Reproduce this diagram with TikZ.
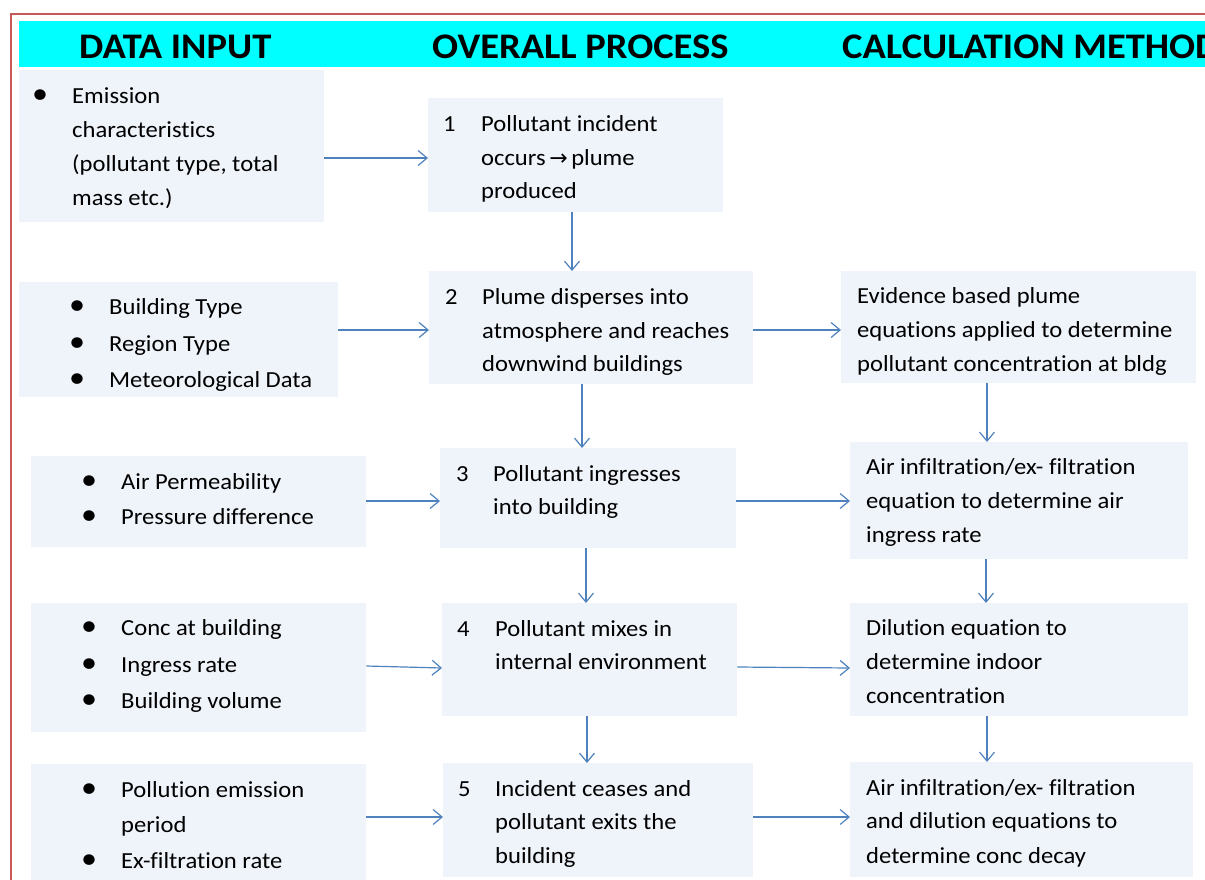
\documentclass[tikz,border=0pt]{standalone}
\usepackage{fontspec}
\setmainfont{Carlito}[FakeStretch=1.07, Ligatures={NoCommon}]
\newfontfamily\symfont{DejaVu Sans}
\usetikzlibrary{arrows.meta}
\definecolor{boxfill}{RGB}{239,243,250}
\definecolor{arrowc}{RGB}{79,129,189}
\definecolor{framec}{RGB}{200,88,88}
\definecolor{headc}{RGB}{0,255,255}
\newcommand\tline[3]{\node[txt] at (#1,#2) {#3};}
\newcommand\bline[3]{\node[bul] at (#1,#2) {\textbullet};}
\begin{document}
\begin{tikzpicture}[x=1pt,y=-1pt,
  box/.style={fill=boxfill, draw=none, inner sep=0, anchor=north west},
  arr/.style={draw=arrowc, line width=1.2pt, -{Straight Barb[length=9pt,width=15pt,line width=1.2pt]}},
  txt/.style={anchor=base west, inner sep=0, font=\fontsize{23}{27}\selectfont},
  bul/.style={anchor=base, inner sep=0, font=\fontsize{30}{30}\selectfont},
  head/.style={anchor=base west, inner sep=0, font=\fontsize{36}{40}\selectfont\bfseries}
]
\useasboundingbox (0,0) rectangle (1205,879);
\clip (0,0) rectangle (1205,879);
% frame and header band
\draw[framec, line width=1.8pt] (11,14) rectangle (1230,900);
\fill[headc] (19,21) rectangle (1230,67);
\node[head] (h1) at (79,58) {DATA INPUT};
\node[head] (h2) at (432,58) {OVERALL PROCESS};
\node[head] (h3) at (842,58) {CALCULATION METHOD};

% boxes
\node[box, minimum width=305pt, minimum height=152pt] (D1) at (19,70) {};
\node[box, minimum width=319pt, minimum height=115pt] (D2) at (19,282) {};
\node[box, minimum width=335pt, minimum height=91pt]  (D3) at (31,456) {};
\node[box, minimum width=335pt, minimum height=129pt] (D4) at (31,603) {};
\node[box, minimum width=335pt, minimum height=125pt] (D5) at (31,764) {};
\node[box, minimum width=295pt, minimum height=114pt] (P1) at (428,98) {};
\node[box, minimum width=324pt, minimum height=113pt] (P2) at (429,271) {};
\node[box, minimum width=296pt, minimum height=100pt] (P3) at (440,448) {};
\node[box, minimum width=295pt, minimum height=113pt] (P4) at (442,603) {};
\node[box, minimum width=310pt, minimum height=114pt] (P5) at (443,763) {};
\node[box, minimum width=355pt, minimum height=112pt] (C2) at (841,271) {};
\node[box, minimum width=338pt, minimum height=117pt] (C3) at (850,442) {};
\node[box, minimum width=338pt, minimum height=113pt] (C4) at (850,603) {};
\node[box, minimum width=343pt, minimum height=115pt] (C5) at (850,762) {};

% data input texts
\bline{40}{103}{}
\tline{72}{103}{Emission}
\tline{72}{137}{characteristics}
\tline{72}{171}{(pollutant type, total}
\tline{72}{205}{mass etc.)}
\begin{scope}
\clip (19,282) rectangle (338,390);
\bline{77}{314}{}\tline{109}{314}{Building Type}
\bline{77}{351}{}\tline{109}{351}{Region Type}
\bline{77}{387}{}\tline{109}{387}{Meteorological Data}
\end{scope}
\bline{89}{489}{}\tline{121}{489}{Air Permeability}
\bline{89}{524}{}\tline{121}{524}{Pressure difference}
\bline{89}{635}{}\tline{121}{635}{Conc at building}
\bline{89}{672}{}\tline{121}{672}{Ingress rate}
\bline{89}{708}{}\tline{121}{708}{Building volume}
\bline{89}{797}{}\tline{121}{797}{Pollution emission}
\tline{121}{832}{period}
\bline{89}{868}{}\tline{121}{868}{Ex-filtration rate}

% process texts
\tline{443}{131}{1}
\tline{481}{131}{Pollutant incident}
\tline{481}{165}{occurs {\symfont\fontsize{22}{24}\selectfont\kern-2pt→\kern-2pt} plume}
\tline{481}{198}{produced}
\tline{445}{304}{2}
\tline{482}{304}{Plume disperses into}
\tline{482}{338}{atmosphere and reaches}
\tline{482}{371}{downwind buildings}
\tline{456}{481}{3}
\tline{493}{481}{Pollutant ingresses}
\tline{493}{514}{into building}
\tline{457}{636}{4}
\tline{495}{636}{Pollutant mixes in}
\tline{495}{669}{internal environment}
\tline{458}{796}{5}
\tline{495}{796}{Incident ceases and}
\tline{495}{829}{pollutant exits the}
\tline{495}{863}{building}

% calculation texts
\tline{857}{303}{Evidence based plume}
\tline{857}{337}{equations applied to determine}
\tline{857}{371}{pollutant concentration at bldg}
\tline{866}{474}{Air infiltration/ex- filtration}
\tline{866}{508}{equation to determine air}
\tline{866}{542}{ingress rate}
\tline{866}{635}{Dilution equation to}
\tline{866}{669}{determine indoor}
\tline{866}{703}{concentration}
\tline{866}{795}{Air infiltration/ex- filtration}
\tline{866}{828}{and dilution equations to}
\tline{866}{863}{determine conc decay}

% horizontal connectors
\draw[arr] (D1.east |- 0,158) -- (P1.west |- 0,158);
\draw[arr] (D2.east |- 0,330) -- (P2.west |- 0,330);
\draw[arr] (P2.east |- 0,330) -- (C2.west |- 0,330);
\draw[arr] (D3.east |- 0,501) -- (P3.west |- 0,501);
\draw[arr] (P3.east |- 0,501) -- (C3.west |- 0,501);
\draw[arr] (D4.east |- 0,666) -- (P4.west |- 0,668);
\draw[arr] (P4.east |- 0,667) -- (C4.west |- 0,668);
\draw[arr] (D5.east |- 0,817) -- (P5.west |- 0,817);
\draw[arr] (P5.east |- 0,817) -- (C5.west |- 0,817);
% vertical connectors
\draw[arr] (P1.south -| 572,0) -- (P2.north -| 572,0);
\draw[arr] (P2.south -| 582,0) -- (P3.north -| 582,0);
\draw[arr] (P3.south -| 586,0) -- (P4.north -| 586,0);
\draw[arr] (P4.south -| 587,0) -- (P5.north -| 587,0);
\draw[arr] (C2.south -| 987,0) -- (C3.north -| 987,0);
\draw[arr] (C3.south -| 986,0) -- (C4.north -| 986,0);
\draw[arr] (C4.south -| 987,0) -- (C5.north -| 987,0);
\end{tikzpicture}
\end{document}
